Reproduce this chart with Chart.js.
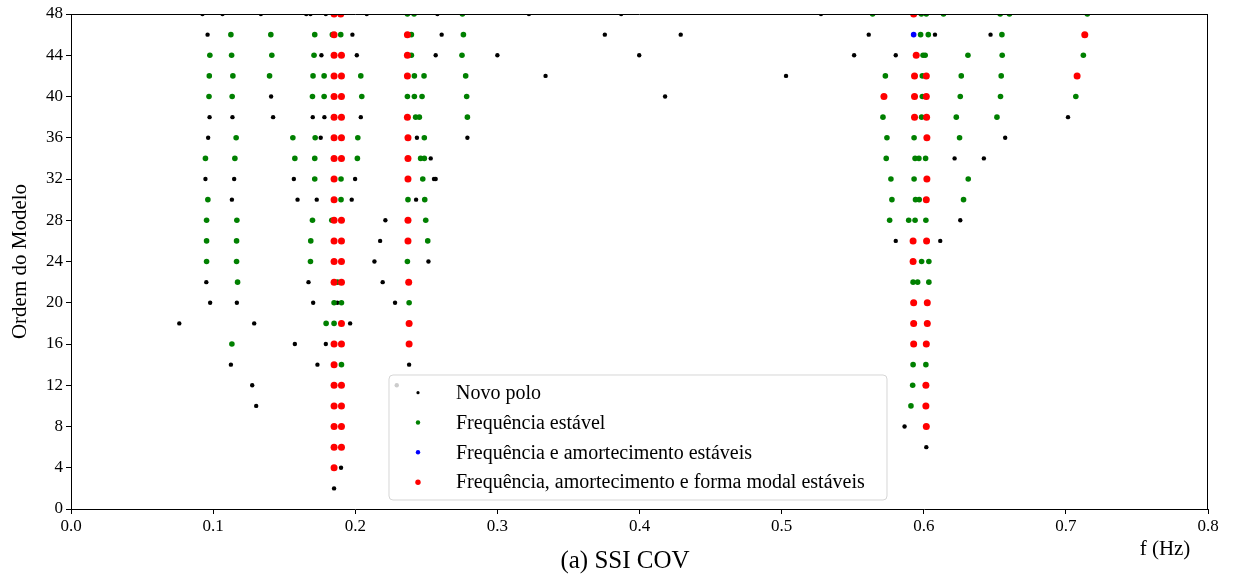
<!DOCTYPE html>
<html>
<head>
<meta charset="utf-8">
<script src="https://cdn.jsdelivr.net/npm/chart.js@4/dist/chart.umd.min.js"></script>
<style>
html,body{margin:0;padding:0;background:#fff;}
canvas{display:block;}
</style>
</head>
<body>
<canvas id="c" width="1238" height="579"></canvas>
<script>
// ---- Data: each row = [model order, [frequencies in Hz]] ----
const novoPolo = [
  [48, [0.0925, 0.1066, 0.1336, 0.1655, 0.1685, 0.1793, 0.2081, 0.2578, 0.3222, 0.3871, 0.5277]],
  [46, [0.0961, 0.1980, 0.2608, 0.3756, 0.4290, 0.5613, 0.6079, 0.6470]],
  [44, [0.1762, 0.2011, 0.2566, 0.3000, 0.3998, 0.5510, 0.5803]],
  [42, [0.3339, 0.5031]],
  [40, [0.1408, 0.4180]],
  [38, [0.0975, 0.1136, 0.1422, 0.1701, 0.1783, 0.2039, 0.7015]],
  [36, [0.0965, 0.1757, 0.2434, 0.2789, 0.6573]],
  [34, [0.2531, 0.6217, 0.6423]],
  [32, [0.0946, 0.1148, 0.1568, 0.1999, 0.2554, 0.2566]],
  [30, [0.1132, 0.1594, 0.1729, 0.1975, 0.2428]],
  [28, [0.2212, 0.6257]],
  [26, [0.2175, 0.5803, 0.6116]],
  [24, [0.2135, 0.2515]],
  [22, [0.0952, 0.1671, 0.2193]],
  [20, [0.0979, 0.1167, 0.1704, 0.1874, 0.2280]],
  [18, [0.0762, 0.1289, 0.1964]],
  [16, [0.1575, 0.1793]],
  [14, [0.1125, 0.1734, 0.2379]],
  [12, [0.1275, 0.2292]],
  [10, [0.1303]],
  [8,  [0.5865]],
  [6,  [0.6018]],
  [4,  [0.1900]],
  [2,  [0.1851]]
];
const freqEstavel = [
  [48, [0.2367, 0.2414, 0.2754, 0.5640, 0.5983, 0.6018, 0.6139, 0.6538, 0.6603, 0.7151]],
  [46, [0.1125, 0.1406, 0.1715, 0.1839, 0.1898, 0.2395, 0.2761, 0.5978, 0.6032, 0.6550]],
  [44, [0.0977, 0.1130, 0.1413, 0.1710, 0.2395, 0.2751, 0.5995, 0.6010, 0.6311, 0.6552, 0.7123]],
  [42, [0.0973, 0.1139, 0.1397, 0.1703, 0.1781, 0.2039, 0.2416, 0.2484, 0.2777, 0.5730, 0.5990, 0.6264, 0.6545]],
  [40, [0.0971, 0.1134, 0.1699, 0.1781, 0.2046, 0.2367, 0.2416, 0.2470, 0.2784, 0.5990, 0.6257, 0.6540, 0.7070]],
  [38, [0.2425, 0.2451, 0.2789, 0.5713, 0.5985, 0.6229, 0.6515]],
  [36, [0.1162, 0.1561, 0.1718, 0.2018, 0.2486, 0.5741, 0.5932, 0.6252]],
  [34, [0.0946, 0.1153, 0.1575, 0.1715, 0.2015, 0.2460, 0.2486, 0.5736, 0.5939, 0.5966, 0.6013]],
  [32, [0.1715, 0.1900, 0.2475, 0.5769, 0.5932, 0.6313]],
  [30, [0.0963, 0.1900, 0.2371, 0.2489, 0.5776, 0.5942, 0.5968, 0.6280]],
  [28, [0.0954, 0.1167, 0.1699, 0.1835, 0.2496, 0.5760, 0.5894, 0.5939, 0.6015]],
  [26, [0.0954, 0.1165, 0.1687, 0.2510]],
  [24, [0.0954, 0.1165, 0.1685, 0.2367, 0.5985, 0.6036]],
  [22, [0.1172, 0.1875, 0.5925, 0.5957, 0.6036]],
  [20, [0.1851, 0.1903, 0.2379]],
  [18, [0.1795, 0.1851]],
  [16, [0.1132]],
  [14, [0.1903, 0.5925, 0.6015]],
  [12, [0.5922]],
  [10, [0.5910]]
];
const freqAmortEstavel = [
  [46, [0.5929]]
];
const freqAmortFormaEstavel = [
  [48, [0.1851, 0.1898, 0.5929]],
  [46, [0.1851, 0.2367, 0.7133]],
  [44, [0.1851, 0.1903, 0.2367, 0.5947]],
  [42, [0.1851, 0.1903, 0.2367, 0.5935, 0.6018, 0.7079]],
  [40, [0.1851, 0.1903, 0.5720, 0.5935, 0.6018]],
  [38, [0.1851, 0.1903, 0.2367, 0.5935, 0.6020]],
  [36, [0.1851, 0.1903, 0.2371, 0.6022]],
  [34, [0.1851, 0.1903, 0.2371]],
  [32, [0.1851, 0.2371, 0.6022]],
  [30, [0.1851, 0.6018]],
  [28, [0.1851, 0.1903, 0.2371]],
  [26, [0.1851, 0.1903, 0.2371, 0.5925, 0.6020]],
  [24, [0.1851, 0.1903, 0.5925]],
  [22, [0.1851, 0.1903, 0.2376]],
  [20, [0.5929, 0.6025]],
  [18, [0.1903, 0.2379, 0.5929, 0.6025]],
  [16, [0.1851, 0.1903, 0.2379, 0.5929, 0.6018]],
  [14, [0.1851]],
  [12, [0.1851, 0.1903, 0.6015]],
  [10, [0.1851, 0.1903, 0.6015]],
  [8,  [0.1851, 0.1903, 0.6018]],
  [6,  [0.1851, 0.1903]],
  [4,  [0.1851]]
];
const seriesLabels = [
  'Novo polo',
  'Frequência estável',
  'Frequência e amortecimento estáveis',
  'Frequência, amortecimento e forma modal estáveis'
];
const xTicksMax = 0.8;
const yTicksMax = 48;

function toPoints(rows) {
  const pts = [];
  rows.forEach(([ord, fs]) => fs.forEach(f => pts.push({x: f, y: ord})));
  return pts;
}

const SERIF = "'Liberation Serif', 'DejaVu Serif', serif";
const colors = ['#000000', '#008000', '#0000ff', '#ff0000'];
const radii = [2.2, 2.8, 2.8, 3.5];
const legendRadii = [1.6, 2.2, 2.2, 2.7];
const seriesData = [novoPolo, freqEstavel, freqAmortEstavel, freqAmortFormaEstavel];

const datasets = seriesData.map((rows, i) => ({
  label: seriesLabels[i],
  data: toPoints(rows),
  backgroundColor: colors[i],
  borderColor: colors[i],
  borderWidth: 0,
  pointRadius: radii[i],
  pointHoverRadius: radii[i],
  order: 4 - i,
  clip: 0
}));

const decorPlugin = {
  id: 'decor',
  afterDatasetsDraw(chart) {
    const ctx = chart.ctx;
    ctx.save();
    // legend box
    const bx = 389, by = 375, bw = 498, bh = 125, r = 4;
    ctx.beginPath();
    ctx.moveTo(bx + r, by);
    ctx.lineTo(bx + bw - r, by);
    ctx.arcTo(bx + bw, by, bx + bw, by + r, r);
    ctx.lineTo(bx + bw, by + bh - r);
    ctx.arcTo(bx + bw, by + bh, bx + bw - r, by + bh, r);
    ctx.lineTo(bx + r, by + bh);
    ctx.arcTo(bx, by + bh, bx, by + bh - r, r);
    ctx.lineTo(bx, by + r);
    ctx.arcTo(bx, by, bx + r, by, r);
    ctx.closePath();
    ctx.fillStyle = 'rgba(255,255,255,0.8)';
    ctx.fill();
    ctx.strokeStyle = 'rgba(204,204,204,0.8)';
    ctx.lineWidth = 1;
    ctx.stroke();
    const rowsY = [392.7, 422.5, 452.3, 482.2];
    ctx.font = '20px ' + SERIF;
    ctx.textBaseline = 'middle';
    ctx.textAlign = 'left';
    seriesLabels.forEach((lab, i) => {
      ctx.beginPath();
      ctx.arc(418, rowsY[i], legendRadii[i], 0, Math.PI * 2);
      ctx.fillStyle = colors[i];
      ctx.fill();
      ctx.fillStyle = '#000';
      ctx.fillText(lab, 456, rowsY[i] + 1);
    });
    ctx.restore();
  },
  afterDraw(chart) {
    const ctx = chart.ctx;
    const a = chart.chartArea;
    ctx.save();
    ctx.strokeStyle = '#000';
    ctx.lineWidth = 1;
    ctx.beginPath();
    ctx.moveTo(a.left, a.top + 0.5);
    ctx.lineTo(a.right, a.top + 0.5);
    ctx.moveTo(a.right - 0.5, a.top);
    ctx.lineTo(a.right - 0.5, a.bottom);
    ctx.stroke();
    ctx.fillStyle = '#000';
    ctx.textAlign = 'center';
    ctx.textBaseline = 'middle';
    ctx.font = '21px ' + SERIF;
    ctx.fillText('f (Hz)', 1165, 549);
    ctx.font = '25px ' + SERIF;
    ctx.fillText('(a) SSI COV', 625, 561);
    ctx.translate(20, (a.top + a.bottom) / 2);
    ctx.rotate(-Math.PI / 2);
    ctx.font = '21px ' + SERIF;
    ctx.fillText('Ordem do Modelo', 0, 0);
    ctx.restore();
  }
};

new Chart(document.getElementById('c'), {
  type: 'scatter',
  data: { datasets },
  options: {
    responsive: false,
    maintainAspectRatio: false,
    devicePixelRatio: 1,
    animation: false,
    events: [],
    layout: { padding: { top: 14, right: 30, left: 0, bottom: 0 } },
    plugins: { legend: { display: false }, tooltip: { enabled: false }, title: { display: false } },
    scales: {
      x: {
        type: 'linear', min: 0, max: xTicksMax,
        afterFit: s => { s.height = 70; },
        ticks: { stepSize: 0.1, autoSkip: false, maxRotation: 0, color: '#000', padding: 2,
                 font: { family: SERIF, size: 17 }, callback: v => Number(v).toFixed(1) },
        grid: { drawOnChartArea: false, drawTicks: true, tickLength: 5, color: '#000' },
        border: { color: '#000', width: 1 }
      },
      y: {
        type: 'linear', min: 0, max: yTicksMax,
        afterFit: s => { s.width = 71; },
        ticks: { stepSize: 4, autoSkip: false, color: '#000', padding: 3,
                 font: { family: SERIF, size: 17 } },
        grid: { drawOnChartArea: false, drawTicks: true, tickLength: 5, color: '#000' },
        border: { color: '#000', width: 1 }
      }
    }
  },
  plugins: [decorPlugin]
});
</script>
</body>
</html>
